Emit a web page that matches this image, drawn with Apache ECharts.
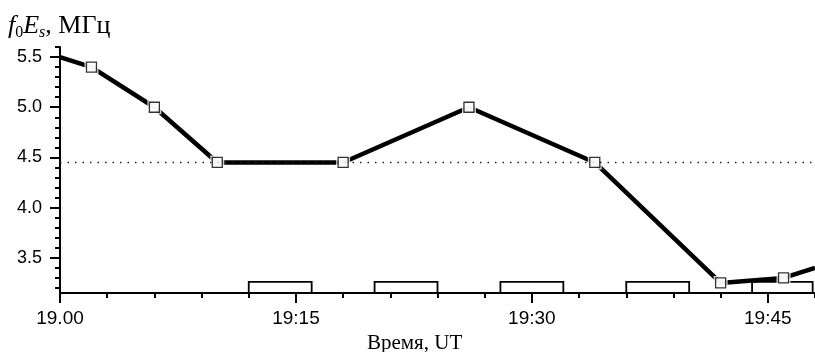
<!DOCTYPE html>
<html>
<head>
<meta charset="utf-8">
<script src="https://cdn.jsdelivr.net/npm/echarts@6/dist/echarts.min.js"></script>
<style>
  html, body { margin: 0; padding: 0; background: #fff; }
  #chart { width: 815px; height: 352px; }
</style>
</head>
<body>
<div id="chart"></div>
<script>
// Time is counted in minutes after 19:00 UT
const obsMinutes = [0, 2, 6, 10, 18, 26, 34, 42, 46, 48];
const foEsValues = [5.5, 5.4, 5.0, 4.45, 4.45, 5.0, 4.45, 3.25, 3.30, 3.40];
const hasMarker  = [false, true, true, true, true, true, true, true, true, false];

// Reference level (dotted line)
const refLevel = 4.45;

// Interval boxes along the time axis
const boxStart = [12, 20, 28, 36, 44];
const boxEnd   = [16, 24, 32, 40, 47.85];
const boxTop   = 3.26;

// Axis ticks
const xMajorTicks  = [0, 15, 30, 45];
const xTickLabels  = ['19.00', '19:15', '19:30', '19:45'];
const xMinorTicks  = [3, 6, 9, 12, 18, 21, 24, 27, 33, 36, 39, 42, 48];
const yMajorTicks  = [3.5, 4.0, 4.5, 5.0, 5.5];
const yMinorTicks  = [3.2, 3.3, 3.4, 3.6, 3.7, 3.8, 3.9, 4.1, 4.2, 4.3, 4.4, 4.6, 4.7, 4.8, 4.9, 5.1, 5.2, 5.3, 5.4, 5.6];

const X_MIN = 0, X_MAX = 48, Y_MIN = 3.15, Y_MAX = 5.6;

const lineData = obsMinutes.map((m, i) => [m, foEsValues[i]]);
const markerData = obsMinutes.map((m, i) => [m, foEsValues[i]]).filter((_, i) => hasMarker[i]);
const boxData = boxStart.map((s, i) => [s, boxEnd[i]]);

const chart = echarts.init(document.getElementById('chart'), null, { renderer: 'canvas' });

const axisLineStyle = { color: '#000', width: 2 };
const serif = 'Liberation Serif';

chart.setOption({
  animation: false,
  backgroundColor: '#fff',
  grid: { left: 60, right: 0, top: 47, bottom: 59, containLabel: false },
  title: {
    left: 8, top: 11, padding: 0,
    text: '{i|f}{sub|0}{i|E}{isub|s}{n|, МГц}',
    textStyle: {
      fontWeight: 'normal',
      rich: {
        i:    { fontFamily: serif, fontStyle: 'italic', fontWeight: 'normal', fontSize: 26, color: '#000', lineHeight: 30 },
        sub:  { fontFamily: serif, fontWeight: 'normal', fontSize: 16, color: '#000', lineHeight: 10, verticalAlign: 'bottom' },
        isub: { fontFamily: serif, fontStyle: 'italic', fontWeight: 'normal', fontSize: 16, color: '#000', lineHeight: 10, verticalAlign: 'bottom' },
        n:    { fontFamily: serif, fontWeight: 'normal', fontSize: 26, color: '#000', lineHeight: 30 }
      }
    }
  },
  graphic: [{
    type: 'text', left: 367, top: 333,
    style: { text: 'Время, UT', font: '21px "Liberation Serif"', fill: '#000' }
  }],
  xAxis: [{
    type: 'value', min: X_MIN, max: X_MAX,
    axisLine: { show: true, onZero: false, lineStyle: axisLineStyle },
    axisTick: { show: true, inside: false, length: 10, lineStyle: axisLineStyle, customValues: xMajorTicks },
    axisLabel: {
      show: true, margin: 16, customValues: xMajorTicks,
      fontFamily: 'Liberation Sans', fontSize: 19, color: '#000',
      formatter: v => xTickLabels[xMajorTicks.indexOf(v)] || ''
    },
    splitLine: { show: false }
  }, {
    type: 'value', min: X_MIN, max: X_MAX, position: 'bottom',
    axisLine: { show: false, onZero: false },
    axisTick: { show: true, inside: false, length: 5, lineStyle: axisLineStyle, customValues: xMinorTicks },
    axisLabel: { show: false },
    splitLine: { show: false }
  }],
  yAxis: [{
    type: 'value', min: Y_MIN, max: Y_MAX,
    axisLine: { show: true, onZero: false, lineStyle: axisLineStyle },
    axisTick: { show: true, inside: false, length: 10, lineStyle: axisLineStyle, customValues: yMajorTicks },
    axisLabel: {
      show: true, margin: 18, customValues: yMajorTicks,
      fontFamily: 'Liberation Sans', fontSize: 18, color: '#000',
      formatter: v => v.toFixed(1)
    },
    splitLine: { show: false }
  }, {
    type: 'value', min: Y_MIN, max: Y_MAX, position: 'left',
    axisLine: { show: false, onZero: false },
    axisTick: { show: true, inside: false, length: 5, lineStyle: axisLineStyle, customValues: yMinorTicks },
    axisLabel: { show: false },
    splitLine: { show: false }
  }],
  series: [
    {
      // interval boxes
      type: 'custom',
      xAxisIndex: 0, yAxisIndex: 0,
      z: 2,
      clip: false,
      data: boxData,
      renderItem: (params, api) => {
        const p0 = api.coord([api.value(0), Y_MIN]);
        const p1 = api.coord([api.value(1), boxTop]);
        return {
          type: 'rect',
          shape: { x: p0[0], y: p1[1], width: p1[0] - p0[0], height: p0[1] - p1[1] },
          style: { fill: '#fff', stroke: '#000', lineWidth: 1.8 }
        };
      }
    },
    {
      type: 'line',
      xAxisIndex: 0, yAxisIndex: 0,
      z: 3,
      data: lineData,
      symbol: 'none',
      lineStyle: { color: '#000', width: 4.5 },
      markLine: {
        silent: true,
        symbol: 'none',
        label: { show: false },
        lineStyle: { color: '#222', width: 1.3, type: [1.5, 6] },
        data: [{ yAxis: refLevel }]
      }
    },
    {
      // white gap around each marker
      type: 'scatter',
      xAxisIndex: 0, yAxisIndex: 0,
      z: 4,
      data: markerData,
      symbol: 'rect',
      symbolSize: 14,
      itemStyle: { color: '#fff' }
    },
    {
      type: 'scatter',
      xAxisIndex: 0, yAxisIndex: 0,
      z: 5,
      data: markerData,
      symbol: 'rect',
      symbolSize: 10,
      itemStyle: { color: '#fff', borderColor: '#000', borderWidth: 1.3 }
    }
  ]
});
</script>
</body>
</html>
